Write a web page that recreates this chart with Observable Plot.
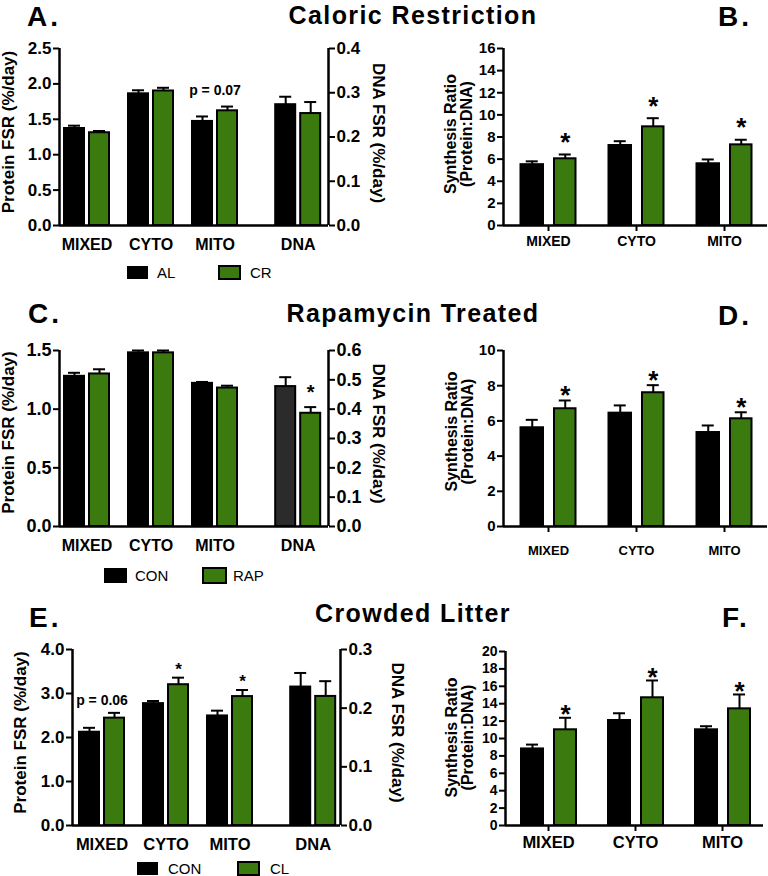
<!DOCTYPE html>
<html>
<head>
<meta charset="utf-8">
<script src="https://cdn.jsdelivr.net/npm/d3@7"></script>
<script src="https://cdn.jsdelivr.net/npm/@observablehq/plot@0.6"></script>
<style>
html,body{margin:0;padding:0;background:#fff;}
#fig{position:relative;width:768px;height:876px;overflow:hidden;background:#fff;font-family:"Liberation Sans",Arial,Helvetica,sans-serif;}
#fig .panel{position:absolute;}
#fig svg{display:block;overflow:visible;}
</style>
</head>
<body>
<div id="fig"></div>
<script>
const FONT = '"Liberation Sans", Arial, Helvetica, sans-serif';
const GREEN = "#3b7a0e";

// ================= DATA =================
const fractions = ["MIXED", "CYTO", "MITO"];
const dnaCategory = "DNA";

// --- Caloric Restriction (A, B) ---
const crGroups = ["AL", "CR"];
const crFsrAL = [1.37, 1.86, 1.47];
const crFsrALsem = [0.04, 0.05, 0.07];
const crFsrCR = [1.31, 1.90, 1.62];
const crFsrCRsem = [0.025, 0.045, 0.06];
const crDnaFsr = [0.273, 0.253];          // AL, CR
const crDnaFsrSem = [0.018, 0.026];
const crFsrNote = ["", "", "p = 0.07", ""];
const crFsrStar = ["", "", "", ""];
const crRatioAL = [5.5, 7.23, 5.58];
const crRatioALsem = [0.30, 0.39, 0.39];
const crRatioCR = [6.03, 8.92, 7.29];
const crRatioCRsem = [0.39, 0.78, 0.46];
const crRatioStar = ["*", "*", "*"];
const crLeftTicks = [0, 0.5, 1.0, 1.5, 2.0, 2.5];
const crRightTicks = [0, 0.1, 0.2, 0.3, 0.4];
const crRatioTicks = [0, 2, 4, 6, 8, 10, 12, 14, 16];

// --- Rapamycin Treated (C, D) ---
const rapGroups = ["CON", "RAP"];
const rapFsrCON = [1.28, 1.48, 1.22];
const rapFsrCONsem = [0.03, 0.02, 0.012];
const rapFsrRAP = [1.30, 1.48, 1.18];
const rapFsrRAPsem = [0.04, 0.02, 0.02];
const rapDnaFsr = [0.477, 0.386];         // CON, RAP
const rapDnaFsrSem = [0.032, 0.021];
const rapFsrNote = ["", "", "", ""];
const rapFsrStar = ["", "", "", "*"];
const rapRatioCON = [5.61, 6.44, 5.34];
const rapRatioCONsem = [0.45, 0.44, 0.40];
const rapRatioRAP = [6.69, 7.60, 6.12];
const rapRatioRAPsem = [0.47, 0.43, 0.37];
const rapRatioStar = ["*", "*", "*"];
const rapLeftTicks = [0, 0.5, 1.0, 1.5];
const rapRightTicks = [0, 0.1, 0.2, 0.3, 0.4, 0.5, 0.6];
const rapRatioTicks = [0, 2, 4, 6, 8, 10];

// --- Crowded Litter (E, F) ---
const clGroups = ["CON", "CL"];
const clFsrCON = [2.12, 2.77, 2.49];
const clFsrCONsem = [0.10, 0.06, 0.12];
const clFsrCL = [2.44, 3.20, 2.93];
const clFsrCLsem = [0.12, 0.16, 0.15];
const clDnaFsr = [0.236, 0.220];          // CON, CL
const clDnaFsrSem = [0.024, 0.026];
const clFsrNote = ["p = 0.06", "", "", ""];
const clFsrStar = ["", "*", "*", ""];
const clRatioCON = [8.8, 12.07, 11.0];
const clRatioCONsem = [0.50, 0.83, 0.41];
const clRatioCL = [11.0, 14.68, 13.41];
const clRatioCLsem = [1.38, 1.99, 1.65];
const clRatioStar = ["*", "*", "*"];
const clLeftTicks = [0, 1, 2, 3, 4];
const clRightTicks = [0, 0.1, 0.2, 0.3];
const clRatioTicks = [0, 2, 4, 6, 8, 10, 12, 14, 16, 18, 20];

const panelTitles = ["Caloric Restriction", "Rapamycin Treated", "Crowded Litter"];
const panelLetters = ["A.", "B.", "C.", "D.", "E.", "F."];
const fsrTitle = "Protein FSR (%/day)";
const dnaTitle = "DNA FSR (%/day)";
const ratioTitle = "Synthesis Ratio\n(Protein:DNA)";

// ================= DRAWING =================
const fig = document.getElementById("fig");
const f1 = d3.format(".1f"), f0 = d3.format("d");

function barPanel(cfg) {
  const {left, width, fx0, fx1, fy0, fy1, c0, unit, cats, idx, series} = cfg;
  const top = fy0 - 30;
  const height = (fy1 - top) + 48;
  const xDomain = [(fx0 - c0) / unit, (fx1 - c0) / unit];
  const labelOf = new Map(idx.map((v, j) => [v, cats[j]]));
  const bars = [];
  cats.forEach((cat, j) => {
    series.forEach(s => {
      const x1 = idx[j] + s.off[0] / unit, x2 = idx[j] + s.off[1] / unit;
      const v = s.values[j], e = s.sems[j];
      bars.push({cat, x1, x2, c: (x1 + x2) / 2, v, top: v + e,
        fill: (s.fillFor && s.fillFor(cat)) || s.fill, star: s.stars ? s.stars[j] : ""});
    });
  });
  const notes = (cfg.notes || []).map((t, j) => {
    const grp = bars.filter(b => b.cat === cats[j]);
    return {t, c: idx[j], top: d3.max(grp, b => b.top)};
  }).filter(d => d.t);
  const cap = cfg.cap / unit;
  const marks = [
    Plot.rect(bars, {x1: "x1", x2: "x2", y1: 0, y2: "v", fill: "fill", stroke: "black", strokeWidth: 2}),
    Plot.ruleX(bars, {x: "c", y1: "v", y2: "top", stroke: "black", strokeWidth: 2}),
    Plot.ruleY(bars, {y: "top", x1: d => d.c - cap, x2: d => d.c + cap, stroke: "black", strokeWidth: 2}),
    Plot.ruleY([0], {stroke: "black", strokeWidth: 2.5}),
    Plot.ruleX([xDomain[0]], {stroke: "black", strokeWidth: 2.5}),
    Plot.axisY(cfg.yTicks, {anchor: "left", tickSize: 6, tickPadding: 2, strokeWidth: 2, stroke: "black",
      tickFormat: cfg.yFmt, fontSize: cfg.tickFont, fontWeight: "bold", fill: "black", label: null}),
    Plot.axisX(idx, {anchor: "bottom", tickSize: cfg.xTickSize, tickPadding: cfg.xPad, strokeWidth: 2, stroke: "black",
      tickFormat: d => labelOf.get(d), fontSize: cfg.xFont, fontWeight: "bold", fill: "black", label: null}),
    Plot.text(bars.filter(d => d.star), {x: "c", y: "top", text: "star", dy: cfg.starDy,
      fontSize: cfg.starFont, fontWeight: "bold", fill: "black"}),
    Plot.text(notes, {x: "c", y: "top", text: "t", dy: cfg.noteDy, fontSize: 14, fontWeight: "bold", fill: "black"}),
    Plot.text([cfg.leftTitle], {text: d => d, frameAnchor: "left", textAnchor: "middle", rotate: -90,
      dx: -cfg.leftOff, dy: cfg.leftDy, fontSize: cfg.titleFont, fontWeight: "bold", fill: "black", lineHeight: 1.0})
  ];
  if (cfg.right) {
    const k = cfg.k;
    marks.push(
      Plot.ruleX([xDomain[1]], {stroke: "black", strokeWidth: 2.5}),
      Plot.axisY(cfg.right.ticks.map(t => t * k), {anchor: "right", tickSize: 6, tickPadding: 2, strokeWidth: 2, stroke: "black",
        tickFormat: d => f1(d / k), fontSize: cfg.tickFont, fontWeight: "bold", fill: "black", label: null}),
      Plot.text([cfg.right.title], {text: d => d, frameAnchor: "right", textAnchor: "middle", rotate: 90,
        dx: cfg.right.off, dy: cfg.right.dy, fontSize: cfg.titleFont, fontWeight: "bold", fill: "black"})
    );
  }
  const svg = Plot.plot({
    width, height,
    marginLeft: fx0 - left, marginRight: left + width - fx1,
    marginTop: fy0 - top, marginBottom: height - (fy1 - top),
    x: {type: "linear", domain: xDomain},
    y: {type: "linear", domain: [0, cfg.yMax]},
    color: {type: "identity"},
    style: {fontFamily: FONT, fontWeight: "bold", color: "black", background: "transparent", overflow: "visible"},
    marks
  });
  const div = document.createElement("div");
  div.className = "panel";
  div.style.left = left + "px";
  div.style.top = top + "px";
  div.appendChild(svg);
  fig.appendChild(div);
}

function fsrSeries(ctrl, ctrlSem, trt, trtSem, dna, dnaSem, k, stars, ctrlFill) {
  return [
    {values: [...ctrl, dna[0] * k], sems: [...ctrlSem, dnaSem[0] * k], fill: "black",
      fillFor: ctrlFill, off: [-22.5, -2.5]},
    {values: [...trt, dna[1] * k], sems: [...trtSem, dnaSem[1] * k], fill: GREEN,
      stars, off: [2.5, 22.5]}
  ];
}
const fsrCats = [...fractions, dnaCategory];
const fsrIdx = [0, 1, 2, 3.3];

// ---- A ----
{
  const k = 2.5 / 0.4;
  barPanel({left: 0, width: 400, fx0: 59, fx1: 328, fy0: 48, fy1: 225, c0: 86.5, unit: 64,
    cats: fsrCats, idx: fsrIdx, series: fsrSeries(crFsrAL, crFsrALsem, crFsrCR, crFsrCRsem, crDnaFsr, crDnaFsrSem, k, crFsrStar),
    yMax: 2.5, yTicks: crLeftTicks, yFmt: f1, tickFont: 17, xFont: 16, xTickSize: 0, xPad: 13,
    cap: 6, starDy: -14, starFont: 20, notes: crFsrNote, noteDy: -16,
    leftTitle: fsrTitle, leftOff: 51, leftDy: -5, titleFont: 17,
    k, right: {ticks: crRightTicks, title: dnaTitle, off: 50, dy: -4}});
}
// ---- B ----
barPanel({left: 420, width: 348, fx0: 503, fx1: 767, fy0: 48, fy1: 225, c0: 548, unit: 88,
  cats: fractions, idx: [0, 1, 2],
  series: [{values: crRatioAL, sems: crRatioALsem, fill: "black", off: [-27.5, -5]},
           {values: crRatioCR, sems: crRatioCRsem, fill: GREEN, stars: crRatioStar, off: [6, 27.5]}],
  yMax: 16, yTicks: crRatioTicks, yFmt: f0, tickFont: 15, xFont: 14, xTickSize: 6, xPad: 5,
  cap: 6, starDy: -12, starFont: 26, leftTitle: ratioTitle, leftOff: 45, leftDy: -3, titleFont: 16});

// ---- C ----
{
  const k = 1.5 / 0.6;
  barPanel({left: 0, width: 400, fx0: 59, fx1: 328, fy0: 350, fy1: 526, c0: 86.5, unit: 64,
    cats: fsrCats, idx: fsrIdx,
    series: fsrSeries(rapFsrCON, rapFsrCONsem, rapFsrRAP, rapFsrRAPsem, rapDnaFsr, rapDnaFsrSem, k, rapFsrStar,
      cat => cat === dnaCategory ? "#2b2b2b" : null),
    yMax: 1.5, yTicks: rapLeftTicks, yFmt: f1, tickFont: 18, xFont: 16, xTickSize: 0, xPad: 13,
    cap: 6, starDy: -15, starFont: 20, notes: rapFsrNote, noteDy: -16,
    leftTitle: fsrTitle, leftOff: 51, leftDy: -6, titleFont: 17,
    k, right: {ticks: rapRightTicks, title: dnaTitle, off: 50, dy: -5}});
}
// ---- D ----
barPanel({left: 420, width: 348, fx0: 503, fx1: 767, fy0: 350, fy1: 526, c0: 548, unit: 88,
  cats: fractions, idx: [0, 1, 2],
  series: [{values: rapRatioCON, sems: rapRatioCONsem, fill: "black", off: [-27.5, -5]},
           {values: rapRatioRAP, sems: rapRatioRAPsem, fill: GREEN, stars: rapRatioStar, off: [6, 27.5]}],
  yMax: 10, yTicks: rapRatioTicks, yFmt: f0, tickFont: 15, xFont: 13, xTickSize: 6, xPad: 13,
  cap: 6, starDy: -5, starFont: 26, leftTitle: ratioTitle, leftOff: 44, leftDy: -7, titleFont: 16});

// ---- E ----
{
  const k = 4.0 / 0.3;
  barPanel({left: 0, width: 400, fx0: 72, fx1: 340, fy0: 649, fy1: 825, c0: 101.5, unit: 64,
    cats: fsrCats, idx: fsrIdx, series: fsrSeries(clFsrCON, clFsrCONsem, clFsrCL, clFsrCLsem, clDnaFsr, clDnaFsrSem, k, clFsrStar),
    yMax: 4.0, yTicks: clLeftTicks, yFmt: f1, tickFont: 17, xFont: 16.5, xTickSize: 0, xPad: 13,
    cap: 6, starDy: -8, starFont: 17, notes: clFsrNote, noteDy: -12,
    leftTitle: fsrTitle, leftOff: 52, leftDy: -5, titleFont: 17,
    k, right: {ticks: clRightTicks, title: dnaTitle, off: 57, dy: -5}});
}
// ---- F ----
barPanel({left: 420, width: 348, fx0: 505, fx1: 763, fy0: 651, fy1: 825, c0: 548, unit: 87,
  cats: fractions, idx: [0, 1, 2],
  series: [{values: clRatioCON, sems: clRatioCONsem, fill: "black", off: [-27, -5]},
           {values: clRatioCL, sems: clRatioCLsem, fill: GREEN, stars: clRatioStar, off: [6, 28]}],
  yMax: 20, yTicks: clRatioTicks, yFmt: f0, tickFont: 14, xFont: 16.5, xTickSize: 6, xPad: 5,
  cap: 6, starDy: -3, starFont: 26, leftTitle: ratioTitle, leftOff: 46, leftDy: -1, titleFont: 16});

// ================= Overlay: titles, panel letters, legends =================
const ov = d3.select("#fig").append("svg")
  .attr("width", 768).attr("height", 876)
  .style("position", "absolute").style("left", "0px").style("top", "0px")
  .style("pointer-events", "none")
  .attr("font-family", FONT);

const titleBaselines = [24, 322, 622];
panelTitles.forEach((t, i) => {
  ov.append("text").attr("x", 413).attr("y", titleBaselines[i]).attr("text-anchor", "middle")
    .attr("font-size", 25).attr("font-weight", "bold").attr("letter-spacing", "1.4px").text(t);
});
const letterPos = [[27, 26], [718, 26], [28, 323], [718, 325], [29, 627], [722, 627]];
panelLetters.forEach((t, i) => {
  ov.append("text").attr("x", letterPos[i][0]).attr("y", letterPos[i][1])
    .attr("font-size", 28).attr("font-weight", "bold").attr("letter-spacing", "3px").text(t);
});

function legend(groups, xs, y, w, h, textXs) {
  groups.forEach((g, i) => {
    ov.append("rect").attr("x", xs[i]).attr("y", y).attr("width", w).attr("height", h)
      .attr("fill", i === 0 ? "black" : GREEN).attr("stroke", "black").attr("stroke-width", i === 0 ? 0 : 2);
    ov.append("text").attr("x", textXs[i]).attr("y", y + h / 2).attr("dy", "0.36em")
      .attr("font-size", 15).text(g);
  });
}
legend(crGroups, [127, 219], 266, 21, 13, [157, 250]);
legend(rapGroups, [104, 203], 568, 23, 15, [135, 233]);
legend(clGroups, [137, 238], 862, 21, 13, [168, 270]);
</script>
</body>
</html>
